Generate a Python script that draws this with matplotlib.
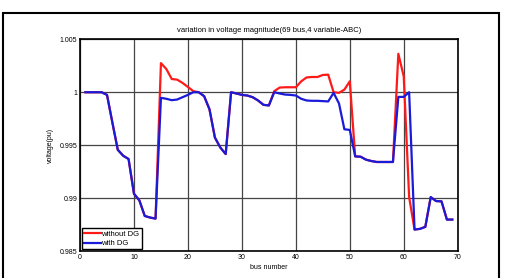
import numpy as np
import matplotlib
matplotlib.use('Agg')
import matplotlib.pyplot as plt
from matplotlib.patches import Rectangle

plt.rcParams['font.family'] = ['Liberation Sans', 'DejaVu Sans']

# bus numbers 1..69
bus = list(range(1, 70))

# voltage with DG (blue)
v_with_dg = [
    1.0, 1.0, 1.0, 1.0, 0.99975, 0.99713, 0.99456, 0.9940, 0.99369, 0.99041,
    0.98978, 0.98831, 0.98816, 0.98806, 0.99947, 0.99938, 0.99925, 0.99931, 0.99953, 0.99975,
    1.0, 1.0, 0.99963, 0.99838, 0.99572, 0.99478, 0.99416, 1.0, 0.99988, 0.99975,
    0.99969, 0.99953, 0.99922, 0.99881, 0.99875, 1.0, 0.99988, 0.99978, 0.99975, 0.99969,
    0.99938, 0.99922, 0.99919, 0.99919, 0.99916, 0.99913, 0.99994, 0.99894, 0.9965, 0.99644,
    0.99394, 0.99391, 0.99363, 0.9935, 0.99341, 0.99341, 0.99341, 0.99341, 0.99956, 0.99956,
    1.0, 0.98703, 0.98709, 0.98728, 0.99009, 0.98972, 0.98969, 0.98797, 0.98797,
]

# voltage without DG (red)
v_without_dg = [
    1.0, 1.0, 1.0, 1.0, 0.99975, 0.99713, 0.99456, 0.9940, 0.99369, 0.99041,
    0.98978, 0.98831, 0.98816, 0.98806, 1.00275, 1.00219, 1.00125, 1.00119, 1.00088, 1.0005,
    1.0001, 1.0, 0.99963, 0.99838, 0.99572, 0.99478, 0.99416, 1.0, 0.99988, 0.99975,
    0.99969, 0.99953, 0.99922, 0.99881, 0.99875, 1.0001, 1.00044, 1.00047, 1.00047, 1.00047,
    1.00103, 1.0014, 1.00144, 1.00144, 1.00163, 1.00166, 1.0, 0.99994, 1.00025, 1.00103,
    0.99394, 0.99391, 0.99363, 0.9935, 0.99341, 0.99341, 0.99341, 0.99341, 1.00363, 1.0015,
    0.99009, 0.98703, 0.98709, 0.98728, 0.99009, 0.98972, 0.98969, 0.98797, 0.98797,
]

x_ticks = [0, 10, 20, 30, 40, 50, 60, 70]
y_ticks = [0.985, 0.99, 0.995, 1.0, 1.005]
y_tick_labels = ['0.985', '0.99', '0.995', '1', '1.005']

fig = plt.figure(figsize=(5.09, 2.78), dpi=100)
ax = fig.add_axes([0.1572, 0.0971, 0.742, 0.7615])

ax.plot(bus, v_without_dg, color='#ff1a1a', lw=1.6, label='without DG', zorder=3)
ax.plot(bus, v_with_dg, color='#1a1ad9', lw=1.6, label='with DG', zorder=4)

ax.set_xlim(0, 70)
ax.set_ylim(0.985, 1.005)
ax.set_xticks(x_ticks)
ax.set_yticks(y_ticks)
ax.set_yticklabels(y_tick_labels)
ax.tick_params(labelsize=5, length=0, pad=2)
ax.grid(True, color='#444444', lw=0.9, ls='-')
ax.set_axisbelow(True)
for s in ax.spines.values():
    s.set_linewidth(1.2)

ax.set_title('variation in voltage magnitude(69 bus,4 variable-ABC)', fontsize=5.5, pad=5)
ax.set_xlabel('bus number', fontsize=5, labelpad=2)
ax.set_ylabel('voltage(pu)', fontsize=5, labelpad=4)

leg = ax.legend(loc='lower left', fontsize=5.5, handlelength=2.2, handletextpad=0.1,
                borderpad=0.3, labelspacing=0.3, fancybox=False, framealpha=1,
                borderaxespad=0.2)
leg.get_frame().set_edgecolor('black')
leg.get_frame().set_linewidth(1.0)

# outer frame of the figure panel
fig.patches.append(Rectangle((0.005, -0.1), 0.975, 1.053, transform=fig.transFigure,
                             fill=False, edgecolor='black', lw=1.5))

fig.savefig('out.png', dpi=100)
